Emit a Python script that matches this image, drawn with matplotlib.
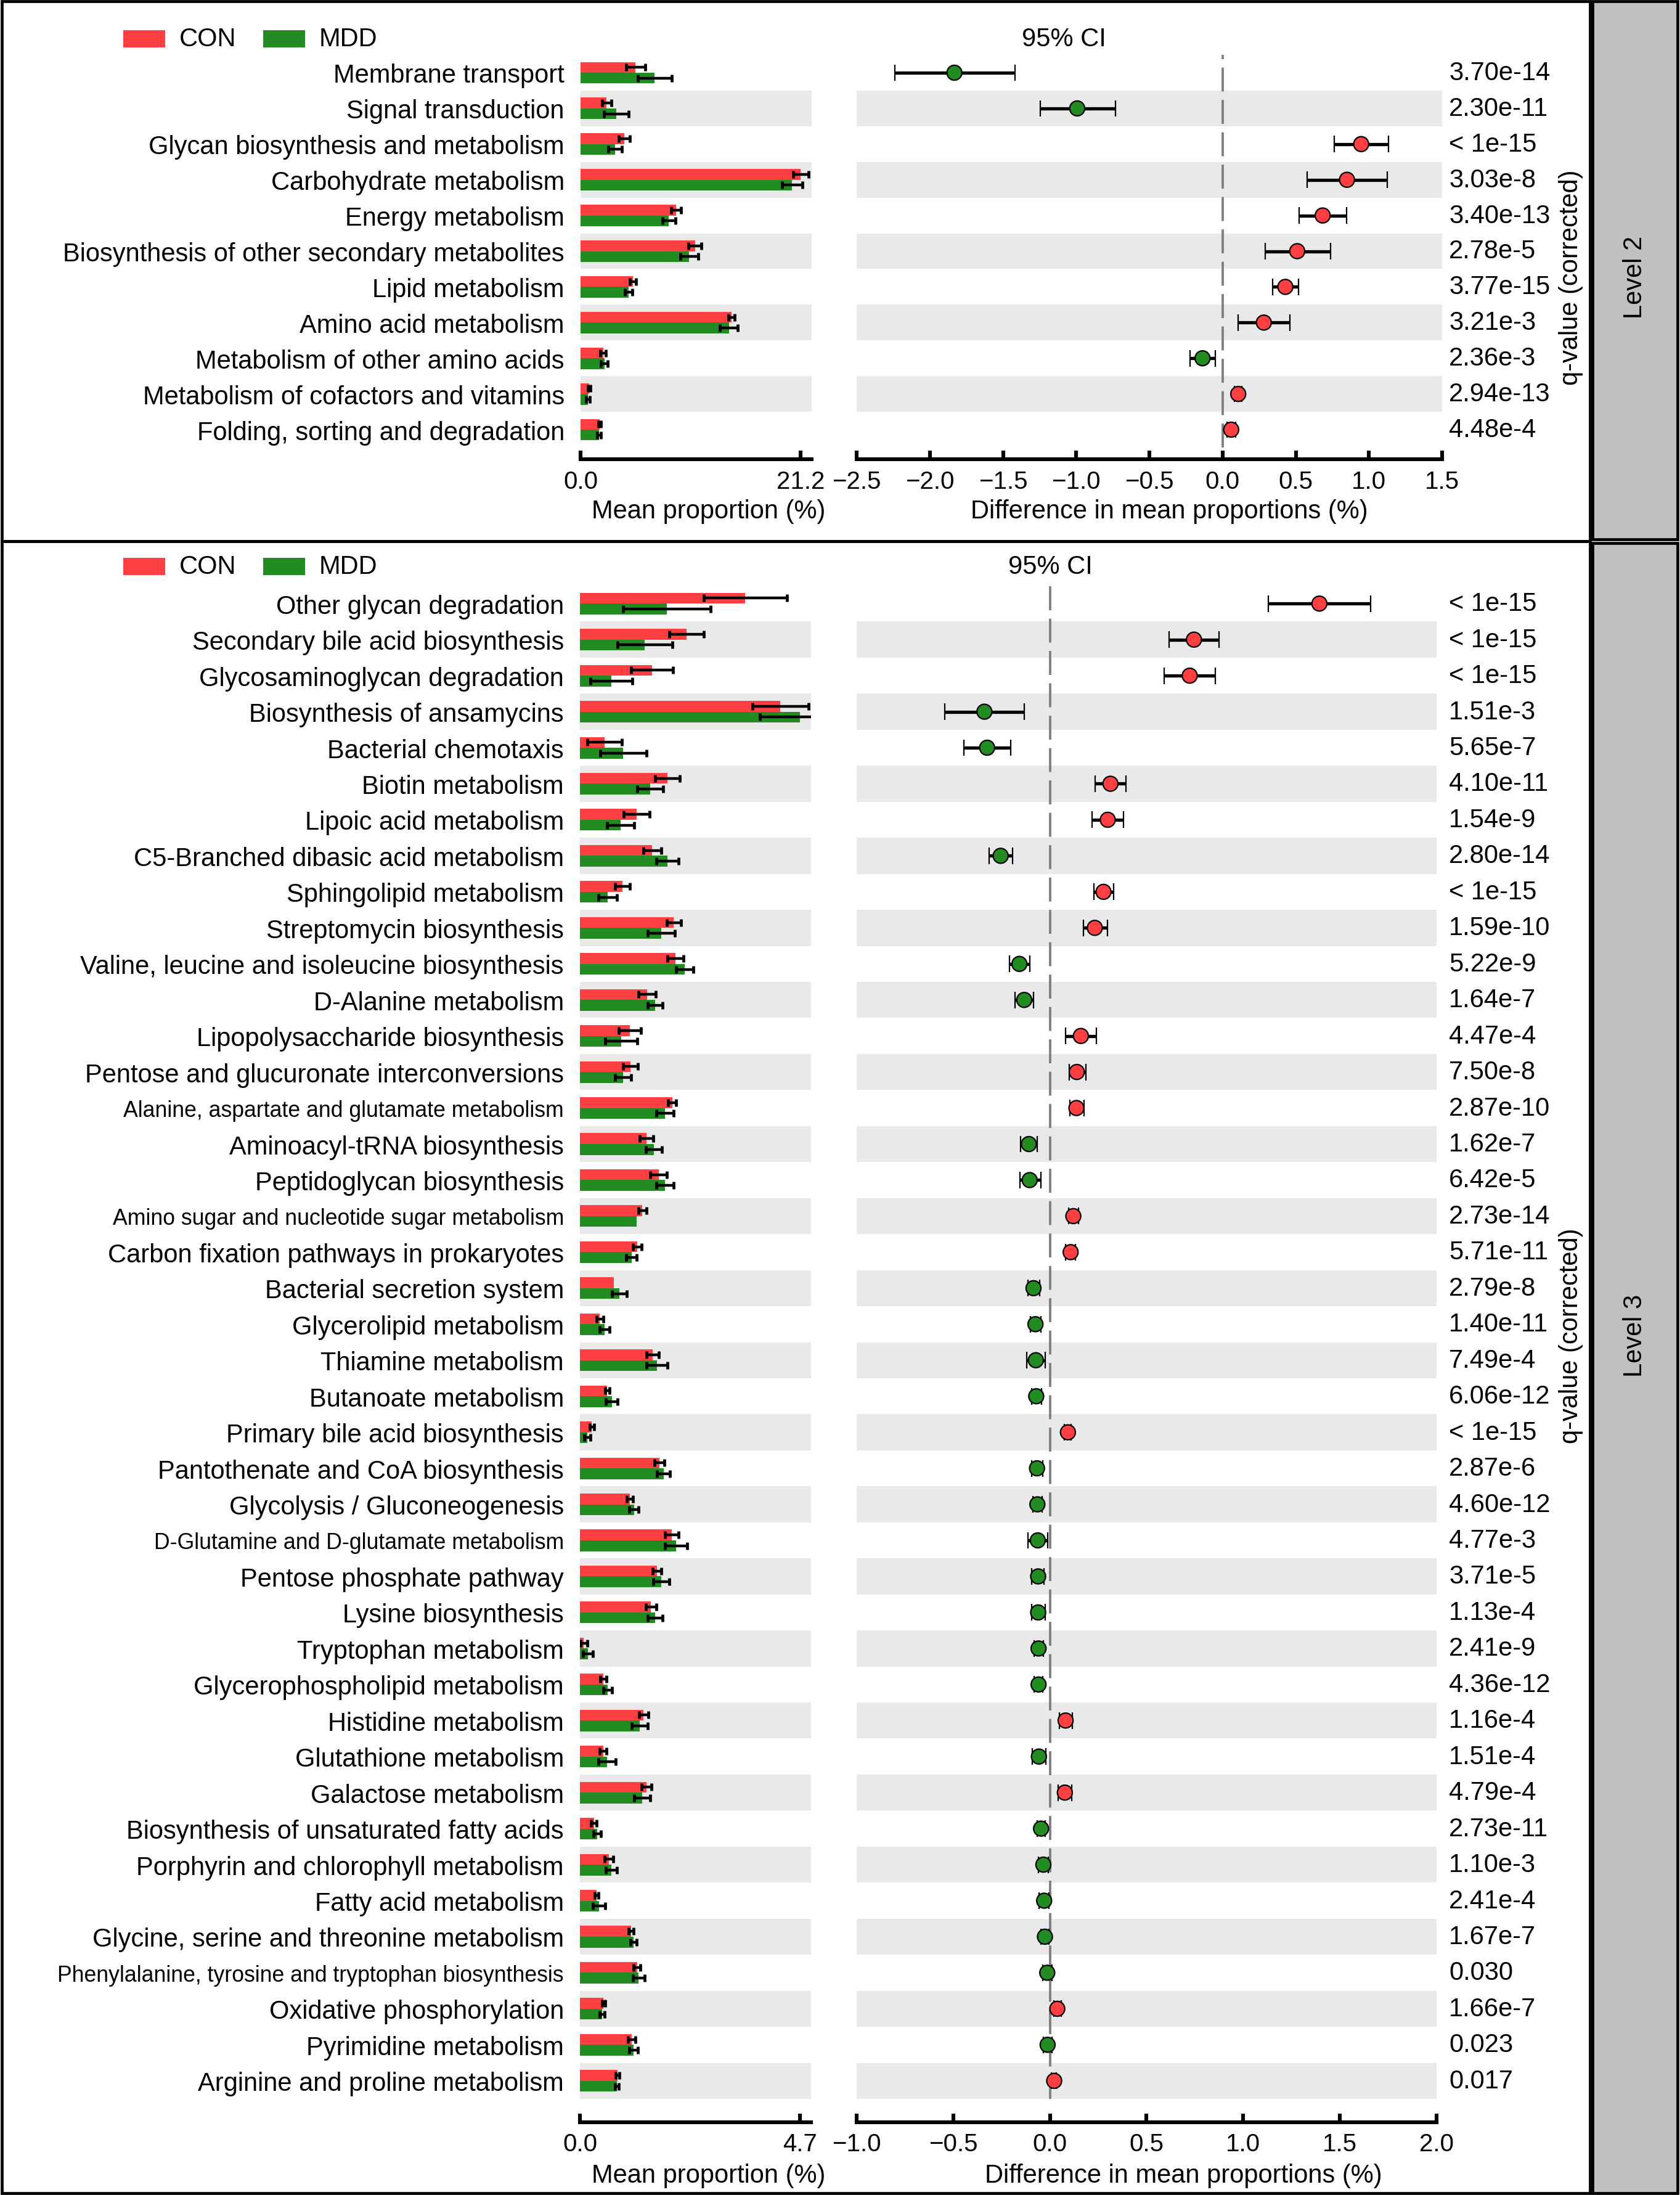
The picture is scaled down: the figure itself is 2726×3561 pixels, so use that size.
"""
Extended error bar plot (STAMP style) for KEGG level 2 and level 3 pathways,
CON vs MDD
"""

import numpy as np
import matplotlib
matplotlib.use("Agg")
import matplotlib.pyplot as plt
import matplotlib.transforms as mtransforms
from matplotlib import font_manager
from matplotlib.patches import Rectangle

W, H = 2726, 3562
DPI = 200

# ---------------------------------------------------------------- Level 2 data
l2_names = ['Membrane transport', 'Signal transduction', 'Glycan biosynthesis and metabolism',
            'Carbohydrate metabolism', 'Energy metabolism',
            'Biosynthesis of other secondary metabolites', 'Lipid metabolism',
            'Amino acid metabolism', 'Metabolism of other amino acids',
            'Metabolism of cofactors and vitamins', 'Folding, sorting and degradation']
l2_con = [5.31, 2.50, 4.24, 21.22, 9.19, 11.02, 5.05, 14.56, 2.18, 0.81, 1.86]
l2_con_err = [0.91, 0.45, 0.53, 0.75, 0.48, 0.61, 0.28, 0.30, 0.28, 0.12, 0.12]
l2_mdd = [7.15, 3.47, 3.33, 20.39, 8.52, 10.48, 4.62, 14.31, 2.30, 0.71, 1.80]
l2_mdd_err = [1.63, 1.19, 0.67, 0.96, 0.60, 0.84, 0.35, 0.86, 0.33, 0.19, 0.17]
l2_diff = [-1.832, -0.993, 0.947, 0.850, 0.684, 0.510, 0.429, 0.282, -0.137, 0.107, 0.059]
l2_ci_low = [-2.240, -1.247, 0.764, 0.577, 0.523, 0.290, 0.341, 0.105, -0.223, 0.080, 0.032]
l2_ci_high = [-1.419, -0.730, 1.132, 1.124, 0.848, 0.738, 0.518, 0.461, -0.048, 0.131, 0.091]
l2_qval = ['3.70e-14', '2.30e-11', '< 1e-15', '3.03e-8', '3.40e-13', '2.78e-5',
           '3.77e-15', '3.21e-3', '2.36e-3', '2.94e-13', '4.48e-4']
l2_bar_ticks = [0.0, 21.2]
l2_ci_ticks = [-2.5, -2.0, -1.5, -1.0, -0.5, 0.0, 0.5, 1.0, 1.5]

# ---------------------------------------------------------------- Level 3 data
l3_names = ['Other glycan degradation', 'Secondary bile acid biosynthesis',
            'Glycosaminoglycan degradation', 'Biosynthesis of ansamycins',
            'Bacterial chemotaxis', 'Biotin metabolism', 'Lipoic acid metabolism',
            'C5-Branched dibasic acid metabolism', 'Sphingolipid metabolism',
            'Streptomycin biosynthesis', 'Valine, leucine and isoleucine biosynthesis',
            'D-Alanine metabolism', 'Lipopolysaccharide biosynthesis',
            'Pentose and glucuronate interconversions',
            'Alanine, aspartate and glutamate metabolism', 'Aminoacyl-tRNA biosynthesis',
            'Peptidoglycan biosynthesis', 'Amino sugar and nucleotide sugar metabolism',
            'Carbon fixation pathways in prokaryotes', 'Bacterial secretion system',
            'Glycerolipid metabolism', 'Thiamine metabolism', 'Butanoate metabolism',
            'Primary bile acid biosynthesis', 'Pantothenate and CoA biosynthesis',
            'Glycolysis / Gluconeogenesis', 'D-Glutamine and D-glutamate metabolism',
            'Pentose phosphate pathway', 'Lysine biosynthesis', 'Tryptophan metabolism',
            'Glycerophospholipid metabolism', 'Histidine metabolism',
            'Glutathione metabolism', 'Galactose metabolism',
            'Biosynthesis of unsaturated fatty acids', 'Porphyrin and chlorophyll metabolism',
            'Fatty acid metabolism', 'Glycine, serine and threonine metabolism',
            'Phenylalanine, tyrosine and tryptophan biosynthesis',
            'Oxidative phosphorylation', 'Pyrimidine metabolism',
            'Arginine and proline metabolism']
l3_con = [3.531, 2.279, 1.541, 4.282, 0.523, 1.871, 1.212, 1.546, 0.909, 2.007,
          2.038, 1.436, 1.067, 1.080, 1.972, 1.423, 1.682, 1.335, 1.221, 0.725,
          0.422, 1.559, 0.584, 0.255, 1.700, 1.067, 1.963, 1.647, 1.520, 0.083,
          0.501, 1.361, 0.496, 1.419, 0.299, 0.619, 0.356, 1.094, 1.221, 0.505,
          1.111, 0.804]
l3_con_err = [0.889, 0.365, 0.450, 0.600, 0.369, 0.259, 0.281, 0.187, 0.158, 0.154,
              0.169, 0.178, 0.237, 0.152, 0.086, 0.143, 0.182, 0.088, 0.090, np.nan,
              0.072, 0.130, 0.048, 0.050, 0.101, 0.066, 0.143, 0.090, 0.112, 0.072,
              0.061, 0.099, 0.075, 0.103, 0.057, 0.088, 0.037, 0.048, 0.070, 0.035,
              0.079, 0.042]
l3_mdd = [1.858, 1.388, 0.676, 4.704, 0.927, 1.502, 0.865, 1.871, 0.589, 1.739,
          2.240, 1.607, 0.883, 0.922, 1.818, 1.577, 1.818, 1.208, 1.102, 0.843,
          0.527, 1.651, 0.681, 0.158, 1.787, 1.155, 2.055, 1.739, 1.607, 0.171,
          0.589, 1.278, 0.580, 1.331, 0.369, 0.672, 0.408, 1.146, 1.252, 0.474,
          1.142, 0.791]
l3_mdd_err = [0.935, 0.582, 0.446, 0.856, 0.494, 0.277, 0.288, 0.237, 0.198, 0.292,
              0.189, 0.160, 0.340, 0.165, 0.189, 0.169, 0.184, np.nan, 0.112, 0.156,
              0.110, 0.224, 0.125, 0.072, 0.134, 0.101, 0.235, 0.169, 0.160, 0.110,
              0.094, 0.165, 0.187, 0.169, 0.079, 0.123, 0.132, 0.072, 0.125, 0.053,
              0.094, 0.040]
l3_diff = [1.394, 0.745, 0.723, -0.339, -0.325, 0.313, 0.299, -0.255, 0.277, 0.232,
           -0.158, -0.133, 0.160, 0.139, 0.137, -0.109, -0.105, 0.121, 0.107, -0.085,
           -0.075, -0.073, -0.071, 0.093, -0.067, -0.065, -0.063, -0.061, -0.061, -0.059,
           -0.059, 0.081, -0.057, 0.077, -0.046, -0.034, -0.030, -0.026, -0.014, 0.038,
           -0.012, 0.022]
l3_ci_low = [1.129, 0.616, 0.592, -0.543, -0.444, 0.234, 0.218, -0.313, 0.226, 0.172,
             -0.208, -0.182, 0.081, 0.099, 0.103, -0.152, -0.156, 0.097, 0.081, -0.115,
             -0.101, -0.119, -0.095, 0.075, -0.095, -0.087, -0.113, -0.093, -0.095, -0.083,
             -0.081, 0.048, -0.091, 0.042, -0.067, -0.059, -0.055, -0.048, -0.038, 0.020,
             -0.034, 0.008]
l3_ci_high = [1.659, 0.875, 0.855, -0.133, -0.202, 0.392, 0.382, -0.194, 0.329, 0.297,
              -0.103, -0.085, 0.240, 0.186, 0.176, -0.067, -0.048, 0.147, 0.133, -0.053,
              -0.046, -0.026, -0.044, 0.111, -0.036, -0.040, -0.012, -0.030, -0.026, -0.034,
              -0.036, 0.115, -0.022, 0.113, -0.026, -0.008, -0.006, -0.004, 0.010, 0.057,
              0.012, 0.034]
l3_qval = ['< 1e-15', '< 1e-15', '< 1e-15', '1.51e-3', '5.65e-7', '4.10e-11', '1.54e-9',
           '2.80e-14', '< 1e-15', '1.59e-10', '5.22e-9', '1.64e-7', '4.47e-4', '7.50e-8',
           '2.87e-10', '1.62e-7', '6.42e-5', '2.73e-14', '5.71e-11', '2.79e-8', '1.40e-11',
           '7.49e-4', '6.06e-12', '< 1e-15', '2.87e-6', '4.60e-12', '4.77e-3', '3.71e-5',
           '1.13e-4', '2.41e-9', '4.36e-12', '1.16e-4', '1.51e-4', '4.79e-4', '2.73e-11',
           '1.10e-3', '2.41e-4', '1.67e-7', '0.030', '1.66e-7', '0.023', '0.017']
l3_bar_ticks = [0.0, 4.7]
l3_ci_ticks = [-1.0, -0.5, 0.0, 0.5, 1.0, 1.5, 2.0]

groups = ['CON', 'MDD']

# labels that the original squeezed to a smaller size
small_labels = ['Alanine, aspartate and glutamate metabolism',
                'Amino sugar and nucleotide sugar metabolism',
                'D-Glutamine and D-glutamate metabolism',
                'Phenylalanine, tyrosine and tryptophan biosynthesis']

# ---------------------------------------------------------------- style
RED = '#FF3F42'
GREEN = '#228B22'
BAND = '#E9E9E9'
STRIP = '#C0C0C0'

installed = {f.name for f in font_manager.fontManager.ttflist}
if 'Liberation Sans Narrow' in installed:
    NARROW = ['Liberation Sans Narrow', 'DejaVu Sans']
    NSIZE = 18.2
else:
    NARROW = ['Liberation Sans', 'DejaVu Sans']
    NSIZE = 15.0
plt.rcParams['font.family'] = ['Liberation Sans', 'DejaVu Sans']
plt.rcParams['axes.unicode_minus'] = True


def fx(x):
    return x / W


def fy(y):
    return 1 - y / H


def box(x0, y0, x1, y1):
    return [x0 / W, 1 - y1 / H, (x1 - x0) / W, (y1 - y0) / H]


def fig_rect(fig, x0, y0, x1, y1, **kw):
    r = Rectangle((fx(x0), fy(y1)), (x1 - x0) / W, (y1 - y0) / H,
                  transform=fig.transFigure, **kw)
    fig.add_artist(r)


def style_xaxis(ax, ticks, outward):
    for s in ['left', 'right', 'top']:
        ax.spines[s].set_visible(False)
    ax.spines['bottom'].set_position(('outward', outward))
    ax.spines['bottom'].set_linewidth(2.2)
    ax.set_xticks(ticks)
    ax.tick_params(axis='x', direction='in', length=5, width=2.2, labelsize=14.5, pad=6)
    ax.tick_params(axis='y', length=0)


def draw_level(fig, p):
    n = len(p['names'])
    rows = np.arange(n)

    # ---- bar plot of mean proportions
    axb = fig.add_axes(box(p['bar_x0'], p['top'], p['bar_x1'], p['bottom']))
    axc = fig.add_axes(box(p['ci_x0'], p['top'], p['ci_x1'], p['bottom']))
    for ax in (axb, axc):
        ax.set_ylim(n - 0.5, -0.5)
        for i in rows[1::2]:
            ax.axhspan(i - 0.5, i + 0.5, color=BAND, lw=0, zorder=0)

    axb.barh(rows - 0.15, p['con'], height=0.3, color=RED, zorder=2)
    axb.barh(rows + 0.15, p['mdd'], height=0.3, color=GREEN, zorder=2)
    eb = dict(fmt='none', ecolor='black', elinewidth=1.6, capsize=2.3, capthick=1.7, zorder=3)
    axb.errorbar(p['con'], rows - 0.15, xerr=p['con_err'], **eb)
    axb.errorbar(p['mdd'], rows + 0.15, xerr=p['mdd_err'], **eb)
    axb.set_xlim(0, p['bar_max'])
    style_xaxis(axb, p['bar_ticks'], p['outward'])
    axb.set_xticklabels(['%.1f' % t for t in p['bar_ticks']])
    axb.set_yticks(rows)
    axb.set_yticklabels(p['names'], family=NARROW, fontsize=NSIZE)
    axb.tick_params(axis='y', pad=9.4)
    for lab in axb.get_yticklabels():
        if lab.get_text() in small_labels:
            lab.set_fontsize(NSIZE * 0.855)

    # ---- difference in mean proportions with 95% CI
    diff = np.array(p['diff'])
    cols = [RED if d > 0 else GREEN for d in diff]
    axc.axvline(0, color='#808080', lw=1.4, ls=(0, (10, 3.5)), zorder=1)
    axc.hlines(rows, p['ci_low'], p['ci_high'], color='black', lw=1.9, zorder=3)
    axc.vlines(p['ci_low'], rows - 0.23, rows + 0.23, color='black', lw=0.8, zorder=3)
    axc.vlines(p['ci_high'], rows - 0.23, rows + 0.23, color='black', lw=0.8, zorder=3)
    axc.scatter(diff, rows, s=76, c=cols, edgecolors='black', linewidths=0.8, zorder=4)
    axc.set_xlim(p['ci_ticks'][0], p['ci_ticks'][-1])
    style_xaxis(axc, p['ci_ticks'], p['outward'])
    axc.set_yticks([])

    # ---- q-values
    tr = mtransforms.blended_transform_factory(fig.transFigure, axc.transData)
    for i, q in enumerate(p['qval']):
        axc.text(fx(2351), i, q, transform=tr, ha='left', va='center', fontsize=15,
                 clip_on=False)

    # ---- axis titles and annotations
    fig.text(fx(p['mean_lab_x']), fy(p['xlab_y']), 'Mean proportion (%)',
             ha='center', va='center', fontsize=15)
    fig.text(fx(p['diff_lab_x']), fy(p['xlab_y']), 'Difference in mean proportions (%)',
             ha='center', va='center', fontsize=15)
    fig.text(fx(p['ci_title_x']), fy(p['legend_y']), '95% CI', ha='center', va='center',
             family=NARROW, fontsize=NSIZE)
    fig.text(fx(2549), fy(p['qlab_y']), 'q-value (corrected)', rotation=90,
             ha='center', va='center', family=NARROW, fontsize=NSIZE)
    fig.text(fx(2653), fy(p['qlab_y']), p['level'], rotation=90,
             ha='center', va='center', family=NARROW, fontsize=NSIZE)

    # ---- legend
    for (px0, px1, tx), g, c in zip([(200, 268, 291), (427, 495, 518)], groups, [RED, GREEN]):
        fig_rect(fig, px0, p['legend_y'] - 14, px1, p['legend_y'] + 14, color=c, lw=0)
        fig.text(fx(tx), fy(p['legend_y']), g, ha='left', va='center',
                 family=NARROW, fontsize=NSIZE)


def main():
    fig = plt.figure(figsize=(W / DPI, H / DPI), dpi=DPI)

    level2 = dict(names=l2_names, con=l2_con, con_err=l2_con_err, mdd=l2_mdd,
                  mdd_err=l2_mdd_err, diff=l2_diff, ci_low=l2_ci_low, ci_high=l2_ci_high,
                  qval=l2_qval, bar_ticks=l2_bar_ticks, ci_ticks=l2_ci_ticks,
                  bar_max=22.27, level='Level 2',
                  top=90, bottom=727, bar_x0=942, bar_x1=1317, ci_x0=1390, ci_x1=2340,
                  outward=7, xlab_y=830, mean_lab_x=1150, diff_lab_x=1897,
                  ci_title_x=1726, legend_y=64, qlab_y=450)
    level3 = dict(names=l3_names, con=l3_con, con_err=l3_con_err, mdd=l3_mdd,
                  mdd_err=l3_mdd_err, diff=l3_diff, ci_low=l3_ci_low, ci_high=l3_ci_high,
                  qval=l3_qval, bar_ticks=l3_bar_ticks, ci_ticks=l3_ci_ticks,
                  bar_max=4.94, level='Level 3',
                  top=951, bottom=3406, bar_x0=941, bar_x1=1316, ci_x0=1390, ci_x1=2331,
                  outward=13.5, xlab_y=3530, mean_lab_x=1150, diff_lab_x=1920,
                  ci_title_x=1704, legend_y=920, qlab_y=2167)

    draw_level(fig, level2)
    draw_level(fig, level3)

    # ---- panel frames and level strips
    fig_rect(fig, 3, 3, 2580, 879, fill=False, ec='black', lw=1.7)
    fig_rect(fig, 3, 879, 2580, 3559, fill=False, ec='black', lw=1.7)
    fig_rect(fig, 2584, 3, 2722, 876, fc=STRIP, ec='black', lw=1.7)
    fig_rect(fig, 2584, 882, 2722, 3559, fc=STRIP, ec='black', lw=1.7)

    fig.savefig('out.png', dpi=DPI, format='png')
    plt.close(fig)


if __name__ == "__main__":
    main()
